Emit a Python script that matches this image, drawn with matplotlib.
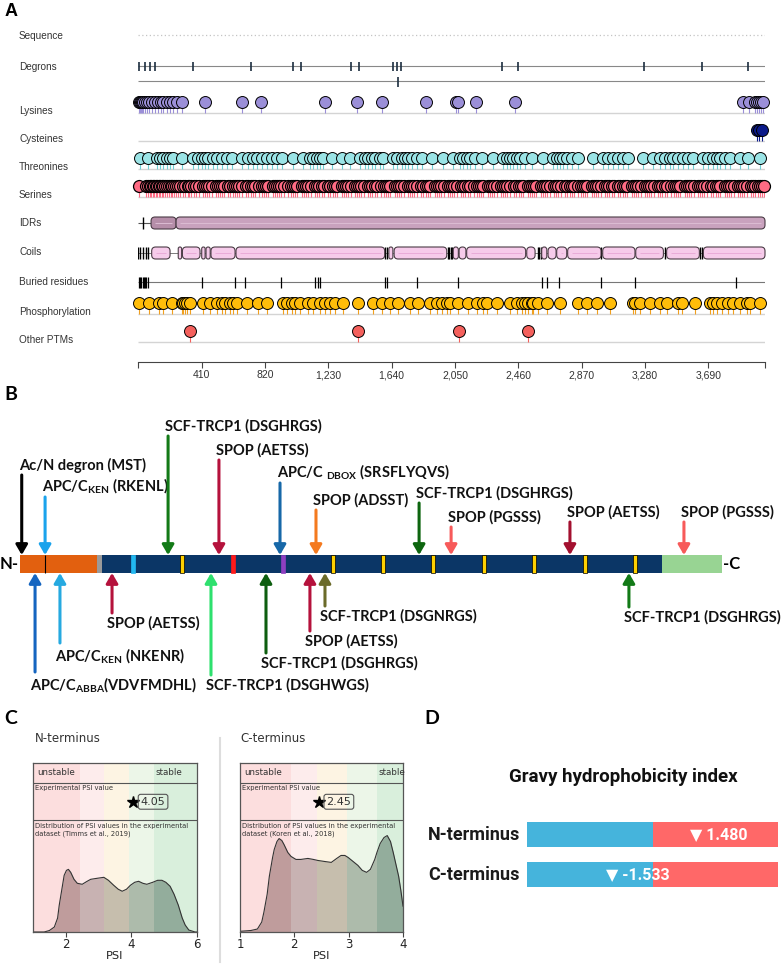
import matplotlib
matplotlib.use('Agg')
import matplotlib.pyplot as plt
from matplotlib.patches import Rectangle, FancyBboxPatch
from matplotlib.lines import Line2D
from matplotlib.transforms import offset_copy

plt.rcParams['mathtext.fontset'] = 'custom'
plt.rcParams['mathtext.rm'] = 'Lato:bold'
plt.rcParams['mathtext.bf'] = 'Lato:bold'
plt.rcParams['mathtext.it'] = 'Lato:bold'

W, H = 782, 965
PROTEIN_LEN = 4058

# ---------------- panel A data (residue positions) ----------------
degron_sites = [5, 43, 75, 108, 351, 727, 1003, 1053, 1377, 1431, 1651, 1677, 1701,
                2353, 2461, 3275, 3650, 3948]
degron_sites_2 = [1681]
lysines = [3, 8, 14, 22, 30, 42, 55, 70, 88, 108, 127, 145, 160, 185, 205, 224, 250, 283,
           432, 671, 794, 1209, 1416, 1578, 1863, 2055, 2070, 2187, 2440,
           3915, 3954, 3993, 4006, 4019, 4032, 4045]
cysteines = [4006, 4020, 4040]
threonines = [10, 64, 118, 140, 161, 183, 205, 226, 280, 356, 388, 410, 431, 453, 485, 507,
              539, 572, 604, 669, 712, 744, 766, 798, 831, 863, 896, 928, 1003, 1068, 1111,
              1133, 1155, 1176, 1198, 1252, 1317, 1371, 1435, 1468, 1489, 1511, 1532, 1565,
              1586, 1651, 1673, 1705, 1727, 1748, 1770, 1802, 1835, 1900, 1975, 2040, 2083,
              2104, 2126, 2148, 2180, 2224, 2299, 2364, 2385, 2407, 2428, 2450, 2472, 2504,
              2547, 2623, 2687, 2709, 2731, 2752, 2774, 2806, 2849, 2946, 3011, 3043, 3076,
              3108, 3141, 3173, 3270, 3335, 3378, 3411, 3443, 3465, 3497, 3530, 3562, 3594,
              3659, 3691, 3724, 3746, 3767, 3799, 3832, 3896, 3950, 4026]
serines = [5, 52, 62, 72, 82, 92, 102, 112, 122, 132, 142, 152, 162, 172, 184, 196, 208, 220,
           232, 245, 258, 272, 290,
           305, 318, 330, 342, 360, 376, 390, 418, 432, 446, 460, 475, 500, 514, 528, 542,
           556, 582, 596, 610,
           624, 638, 652, 670, 698, 712, 726, 740, 756, 784, 798, 812, 826, 840, 870, 884, 898,
           912, 926, 944, 972, 986, 1000, 1014, 1030, 1058, 1072, 1086, 1100, 1116, 1144,
           1158, 1172, 1186,
           1200, 1230, 1244, 1258, 1272, 1288, 1316, 1330, 1344, 1358, 1374, 1402, 1416, 1430,
           1444, 1460, 1488,
           1502, 1516, 1530, 1546, 1574, 1588, 1602, 1616, 1632, 1660, 1674, 1688, 1702, 1718,
           1746, 1760, 1774, 1788,
           1804, 1832, 1846, 1860, 1874, 1890, 1918, 1932, 1946, 1960, 1976, 2004, 2018, 2032,
           2046, 2062, 2090,
           2104, 2118, 2132, 2148, 2176, 2190, 2204, 2218, 2234, 2262, 2276, 2290, 2304, 2320,
           2348, 2362, 2376, 2390,
           2406, 2434, 2448, 2462, 2476, 2492, 2520, 2534, 2548, 2562, 2578, 2606, 2620, 2634,
           2648, 2664, 2692,
           2706, 2720, 2736, 2764, 2778, 2792, 2806, 2822, 2850, 2864, 2878, 2892, 2908, 2936,
           2950, 2964, 2978, 2994,
           3022, 3036, 3050, 3064, 3080, 3108, 3122, 3136, 3150, 3166, 3194, 3208, 3222, 3236,
           3252, 3280, 3294,
           3308, 3322, 3338, 3366, 3380, 3394, 3408, 3424, 3452, 3466, 3480, 3494, 3510, 3538,
           3552, 3566, 3580, 3596,
           3624, 3638, 3652, 3666, 3682, 3710, 3724, 3738, 3752, 3768, 3796, 3810, 3824, 3838,
           3854, 3882, 3896, 3910, 3924, 3940, 3968, 3982, 3996, 4010, 4024, 4038, 4050]
idr_ticks = [30]
idr_starts = [82, 244]
idr_ends = [244, 4058]
coil_ticks = [0, 10, 32, 47, 60, 1600, 1612, 2003, 2012, 2022, 2030, 2585, 2595, 2605,
              2999, 3412, 3640, 3650]
coil_starts = [86, 258, 285, 410, 438, 470, 632, 1622, 1656, 2039, 2077, 2126, 2515, 2612,
               2653, 2709, 2780, 3007, 3221, 3421, 3659]
coil_ends = [205, 280, 399, 432, 465, 626, 1595, 1648, 1997, 2072, 2121, 2508, 2569, 2645,
             2705, 2774, 2996, 3216, 3400, 3633, 4058]
buried_sites = [4, 12, 20, 28, 36, 44, 52, 60, 410, 626, 690, 921, 1144, 1160,
                1176, 1595, 1608, 1806, 2072, 2612, 2645, 2726, 2996, 3216, 3870]
phospho_sites = [6, 71, 135, 161, 216, 280, 291, 302, 313, 334, 421, 464, 507, 539, 561, 593,
                 615, 637, 701, 777, 831, 934, 960, 993, 1014, 1047, 1101, 1133, 1176, 1209,
                 1241, 1273, 1327, 1425, 1521, 1576, 1630, 1683, 1759, 1813, 1889, 1932, 1965,
                 1997, 2018, 2072, 2137, 2191, 2234, 2256, 2321, 2407, 2450, 2483, 2504, 2525,
                 2547, 2558, 2590, 2645, 2731, 2849, 2904, 2968, 3055, 3206, 3216, 3249, 3314,
                 3378, 3422, 3497, 3519, 3605, 3702, 3724, 3746, 3778, 3821, 3853, 3896, 3940,
                 3961, 4026]
other_ptms = [334, 1425, 2079, 2521]
axis_ticks = [410, 820, 1230, 1640, 2050, 2460, 2870, 3280, 3690]

# ---------------- panel B data ----------------
domain_starts = [0, 445, 474, 3711]
domain_ends = [445, 474, 3711, 4058]
domain_colors = ['#e2600f', '#9a9a9a', '#0b3666', '#98d493']
stripe_pos = [653, 936, 1231, 1520, 1809, 2098, 2387, 2682, 2971, 3266, 3555]
stripe_colors = ['#22b8f0', '#ffd000', '#ff1a1a', '#8e3fc0', '#ffd000', '#ffd000', '#ffd000',
                 '#ffd000', '#ffd000', '#ffd000', '#ffd000']

top_labels = ['Ac/N degron (MST)', r'APC/C$_{\mathrm{KEN}}$ (RKENL)', 'SCF-TRCP1 (DSGHRGS)',
              'SPOP (AETSS)', r'APC/C ${}_{\mathrm{DBOX}}$ (SRSFLYQVS)', 'SPOP (ADSST)',
              'SCF-TRCP1 (DSGHRGS)', 'SPOP (PGSSS)', 'SPOP (AETSS)', 'SPOP (PGSSS)']
top_pos = [10, 145, 856, 1150, 1503, 1711, 2307, 2492, 3179, 3838]
top_colors = ['#000000', '#1aa3ec', '#137a17', '#b5123c', '#1768a8', '#f47a1f',
              '#0d650f', '#f75a5a', '#a3102f', '#f75a5a']
top_start = [475, 497, 436, 460, 483, 510, 503, 527, 522, 522]

bot_labels = [r'APC/C$_{\mathrm{ABBA}}$(VDVFMDHL)', r'APC/C$_{\mathrm{KEN}}$ (NKENR)',
              'SPOP (AETSS)', 'SCF-TRCP1 (DSGHWGS)', 'SCF-TRCP1 (DSGHRGS)', 'SPOP (AETSS)',
              'SCF-TRCP1 (DSGNRGS)', 'SCF-TRCP1 (DSGHRGS)']
bot_pos = [87, 231, 532, 1104, 1422, 1676, 1763, 3520]
bot_colors = ['#1565c0', '#26a9e0', '#b5123c', '#2ee06e', '#0d5e0f', '#b5123c',
              '#6b6b2a', '#137a17']
bot_end = [672, 643, 613, 675, 653, 631, 606, 607]

# ---------------- panel C data ----------------
psi_n = [1.0, 1.34, 1.5, 1.65, 1.75, 1.8, 1.88, 1.95, 2.02, 2.08, 2.15, 2.25, 2.35, 2.5,
         2.65, 2.76, 2.95, 3.16, 3.3, 3.46, 3.6, 3.72, 3.85, 3.97, 4.1, 4.22, 4.35, 4.47,
         4.65, 4.8, 4.93, 5.05, 5.18, 5.3, 5.43, 5.55, 5.64, 5.75, 5.94, 6.0]
dens_n = [0, 0, 1.5, 5, 14, 27, 43, 57, 62, 63, 60, 53, 49, 48, 51, 53, 54, 55, 52, 47, 43,
          41, 43, 47, 50, 51, 49, 48, 50, 52, 52, 50, 46, 38, 27, 14, 7, 2, 0, 0]
psi_c = [1.0, 1.2, 1.32, 1.4, 1.44, 1.5, 1.54, 1.6, 1.63, 1.68, 1.72, 1.77, 1.81, 1.88,
         1.94, 2.03, 2.12, 2.25, 2.35, 2.43, 2.55, 2.68, 2.78, 2.86, 2.93, 2.99, 3.08, 3.17,
         3.25, 3.33, 3.4, 3.48, 3.52, 3.58, 3.65, 3.71, 3.77, 3.82, 3.87, 3.92, 3.96, 4.0]
dens_c = [0.7, 1.5, 3, 10, 20, 38, 56, 75, 83, 91, 94, 92, 88, 80, 76, 73, 73, 74, 73, 72,
          71, 70, 74, 77, 77, 75, 71, 67, 62, 60, 63, 73, 80, 89, 95, 97, 91, 80, 68, 56,
          42, 26]
bins_n = [1.0, 2.42, 3.15, 3.94, 4.70, 6.0]
bins_c = [1.0, 1.93, 2.42, 2.97, 3.53, 4.0]
psi_value_n = 4.05
psi_value_c = 2.45

# ---------------- panel D data ----------------
gravy_labels = ['N-terminus', 'C-terminus']
gravy_values = [1.480, -1.533]
gauge_min, gauge_max = -4.5, 4.5


def fbox(x0, y0, x1, y1):
    return [x0 / W, 1 - y1 / H, (x1 - x0) / W, (y1 - y0) / H]


fig = plt.figure(figsize=(W / 100, H / 100), dpi=100)
fig.patch.set_facecolor('white')

letter_font = dict(fontsize=14, fontweight='bold', family='Lato', va='center', ha='left')
fig.text(5 / W, 1 - 12 / H, 'A', fontsize=13, fontweight='bold', family='Liberation Sans',
         va='center', ha='left')
fig.text(4 / W, 1 - 394 / H, 'B', **letter_font)
fig.text(4 / W, 1 - 718 / H, 'C', **letter_font)
fig.text(424 / W, 1 - 718 / H, 'D', **letter_font)

# =============== Panel A ===============
ax = fig.add_axes(fbox(138.4, 0, 765, 362))
ax.set_xlim(0, PROTEIN_LEN)
ax.set_ylim(362, 0)
for s in ['top', 'left', 'right']:
    ax.spines[s].set_visible(False)
ax.spines['bottom'].set_color('#444444')
ax.spines['bottom'].set_linewidth(0.8)
ax.set_yticks([])
ax.set_xticks([0] + axis_ticks + [PROTEIN_LEN])
ax.set_xticklabels([''] + [f'{v:,}' for v in axis_ticks] + [''])
ax.tick_params(axis='x', length=4, width=0.8, color='#444444', labelsize=7.5,
               labelcolor='#333333', pad=2)
for lab in ax.get_xticklabels():
    lab.set_family('Liberation Sans')

row_labels = ['Sequence', 'Degrons', 'Lysines', 'Cysteines', 'Threonines', 'Serines', 'IDRs',
              'Coils', 'Buried residues', 'Phosphorylation', 'Other PTMs']
row_label_y = [36, 67, 111, 139, 167, 195, 223, 252, 282, 312, 340]
lab_x = (19 - 138.4) / (765 - 138.4)
for name, y in zip(row_labels, row_label_y):
    ax.text(lab_x, y, name, transform=ax.get_yaxis_transform(), fontsize=7.2,
            family='Liberation Sans', color='#333333', va='center', ha='left')

# sequence
ax.hlines(35, 0, PROTEIN_LEN, colors='#c4c4c4', linestyles=(0, (1, 2)), lw=0.9)

# degrons
ax.hlines(66, 0, PROTEIN_LEN, colors='#888888', lw=0.8)
ax.vlines(degron_sites, 62, 71, colors='#1c2e40', lw=1.2)
ax.hlines(81, 0, PROTEIN_LEN, colors='#888888', lw=0.8)
ax.vlines(degron_sites_2, 77, 87, colors='#1c2e40', lw=1.2)


def lollipop(pos, yc, ybase, color, stem, mew=0.7):
    ax.hlines(ybase, 0, PROTEIN_LEN, colors='#d4d4d4', lw=1.0, zorder=1)
    ax.vlines(pos, yc, ybase - 0.5, colors=stem, lw=0.8, zorder=2)
    ax.plot(pos, [yc] * len(pos), 'o', ms=8.6, mfc=color, mec='black', mew=mew,
            clip_on=False, zorder=3)


lollipop(lysines, 102, 113, '#9b8fd8', '#9b8fd8')
lollipop(cysteines, 130, 141, '#0b1a8a', '#0b1a8a')
lollipop(threonines, 158, 169, '#9be4e6', '#6fd0d4')
lollipop(serines, 186, 197, '#ff6b84', '#ff6b84', mew=0.9)
lollipop(phospho_sites, 303, 314, '#ffbd0a', '#f0a020')
lollipop(other_ptms, 331, 342, '#f4605c', '#f4605c')

ASPECT = 4 / 26.0


def rbox(x0, x1, yc, h, fc, mid):
    r = min(26, (x1 - x0) / 2.0)
    p = FancyBboxPatch((x0, yc - h / 2), x1 - x0, h,
                       boxstyle=f'round,pad=0,rounding_size={r}', mutation_aspect=ASPECT,
                       fc=fc, ec='#4a3b45', lw=0.8, clip_on=False, zorder=3)
    ax.add_patch(p)
    ax.hlines(yc, x0 + r, x1 - r, colors=mid, lw=0.7, zorder=4)


# IDRs
ax.hlines(223, 0, idr_starts[0], colors='#555555', lw=0.8)
ax.vlines(idr_ticks, 217, 229, colors='black', lw=1.0)
idr_fc = ['#b68ea9', '#c9a2be']
for x0, x1, c in zip(idr_starts, idr_ends, idr_fc):
    rbox(x0, x1, 223, 12, c, '#dcbcd3')

# coils
ax.hlines(253, 0, PROTEIN_LEN, colors='#666666', lw=0.6)
ax.vlines(coil_ticks, 247, 259, colors='black', lw=1.0)
for x0, x1 in zip(coil_starts, coil_ends):
    rbox(x0, x1, 253, 12, '#f6cbea', '#e9acd8')

# buried residues
ax.hlines(282, 0, PROTEIN_LEN, colors='#777777', lw=0.8)
ax.vlines(buried_sites, 277, 288, colors='black', lw=0.9)

# =============== Panel B ===============
k = 702.0 / PROTEIN_LEN
axb = fig.add_axes(fbox(0, 380, 782, 712))
axb.set_xlim(-20 / k, 762 / k)
axb.set_ylim(712, 380)
axb.axis('off')
for x0, x1, c in zip(domain_starts, domain_ends, domain_colors):
    axb.barh(564, x1 - x0, left=x0, height=18, color=c, lw=0)
for xp, c in zip(stripe_pos, stripe_colors):
    ec = 'black' if c == '#ffd000' else c
    axb.barh(564, 3.5 / k, left=xp - 1.75 / k, height=18, color=c, ec=ec, lw=0.5)
axb.vlines([145], 555, 573, colors='black', lw=0.8)
fig.text(0 / W, 1 - 564 / H, 'N-', fontsize=12, fontweight='bold', family='Lato',
         ha='left', va='center')
fig.text(723 / W, 1 - 564 / H, '-C', fontsize=12, fontweight='bold', family='Lato',
         ha='left', va='center')

arrow_style = dict(arrowstyle='-|>,head_length=0.6,head_width=0.35', mutation_scale=10,
                   lw=2.2, shrinkA=0, shrinkB=0)
tr_top = offset_copy(axb.transData, fig=fig, x=-3, y=0, units='dots')
tr_bot = offset_copy(axb.transData, fig=fig, x=-5, y=0, units='dots')
lab_font = dict(fontsize=10.5, fontweight='bold', family='Lato', color='#111111')
for lab, xp, c, y0 in zip(top_labels, top_pos, top_colors, top_start):
    axb.annotate('', xy=(xp, 555), xytext=(xp, y0),
                 arrowprops=dict(color=c, **arrow_style))
    axb.text(xp, y0 - 2, lab, transform=tr_top, ha='left', va='bottom', **lab_font)
for lab, xp, c, y1 in zip(bot_labels, bot_pos, bot_colors, bot_end):
    axb.annotate('', xy=(xp, 573), xytext=(xp, y1),
                 arrowprops=dict(color=c, **arrow_style))
    axb.text(xp, y1 + 3, lab, transform=tr_bot, ha='left', va='top', **lab_font)

# =============== Panel C ===============
band_colors = ['#fcdede', '#fdecec', '#fdf4e3', '#ecf6e8', '#d9efdc']
fill_colors = ['#bf9c9c', '#c8b2b2', '#c6bead', '#adbbab', '#93ad9c']


def psi_panel(axp, psi, dens, bins, value, ticks, source):
    for i in range(5):
        axp.axvspan(bins[i], bins[i + 1], color=band_colors[i], lw=0, zorder=0)
    for i in range(5):
        poly = axp.fill_between(psi, dens, 0, color=fill_colors[i], lw=0, zorder=1)
        clip = Rectangle((bins[i], 0), bins[i + 1] - bins[i], 170, transform=axp.transData)
        poly.set_clip_path(clip)
    axp.plot(psi, dens, color='#333333', lw=0.8, zorder=2)
    axp.axhline(150, color='#555555', lw=0.8, zorder=3)
    axp.axhline(113, color='#555555', lw=0.8, zorder=3)
    axp.set_xlim(bins[0], bins[-1])
    axp.set_ylim(0, 170)
    axp.set_yticks([])
    axp.set_xticks(ticks)
    axp.tick_params(axis='x', length=3.5, width=0.8, color='#444444', labelsize=8.5,
                    labelcolor='#222222', pad=1)
    for s in axp.spines.values():
        s.set_color('#555555')
        s.set_linewidth(0.9)
    axp.set_xlabel('PSI', fontsize=8.2, color='#222222', labelpad=0)
    xt = axp.get_yaxis_transform()
    axp.text(0.025, 160, 'unstable', transform=xt, fontsize=6.3, color='#333333',
             va='center', ha='left')
    axp.text(bins[4] + 0.02, 160, 'stable', fontsize=6.3, color='#333333',
             va='center', ha='left')
    axp.text(0.015, 148, 'Experimental PSI value', transform=xt, fontsize=4.9,
             color='#333333', va='top', ha='left')
    axp.text(0.015, 110, 'Distribution of PSI values in the experimental\n' + source,
             transform=xt, fontsize=4.9, color='#333333', va='top', ha='left',
             linespacing=1.3)
    axp.plot(value, 131, marker='*', ms=9, color='black', zorder=4)
    axp.annotate(f'{value:.2f}', xy=(value, 131), xytext=(5.5, 0), textcoords='offset points',
                 ha='left', va='center', fontsize=8, color='#333333', zorder=4,
                 bbox=dict(boxstyle='round,pad=0.22', fc='none', ec='#555555', lw=0.8))


axn = fig.add_axes(fbox(33, 763, 197, 932))
psi_panel(axn, psi_n, dens_n, bins_n, psi_value_n, [2, 4, 6], 'dataset (Timms et al., 2019)')
axc = fig.add_axes(fbox(240, 763, 403, 932))
psi_panel(axc, psi_c, dens_c, bins_c, psi_value_c, [1, 2, 3, 4], 'dataset (Koren et al., 2018)')
fig.text(35 / W, 1 - 738 / H, 'N-terminus', fontsize=8.5, color='#333333', va='center')
fig.text(240 / W, 1 - 738 / H, 'C-terminus', fontsize=8.5, color='#333333', va='center')
fig.add_artist(Line2D([220 / W, 220 / W], [1 - 738 / H, 1 - 962 / H], color='#dddddd', lw=1.5))

# =============== Panel D ===============
fig.text(623 / W, 1 - 777 / H, 'Gravy hydrophobicity index', fontsize=13.5,
         fontweight='bold', family='Roboto', color='#111111', ha='center', va='center')
axd = fig.add_axes(fbox(527, 814.5, 778, 894.5))
axd.set_xlim(gauge_min, gauge_max)
axd.set_ylim(1.5, -0.5)
axd.axis('off')
for i, (lab, v) in enumerate(zip(gravy_labels, gravy_values)):
    axd.barh(i, 0 - gauge_min, left=gauge_min, height=0.625, color='#45b4dc', lw=0)
    axd.barh(i, gauge_max, left=0, height=0.625, color='#ff6868', lw=0)
    axd.text(v - 0.15, i, f'\u25bc {v:.3f}', fontsize=11.5, fontweight='bold',
             family=['Roboto', 'DejaVu Sans'], color='white', ha='left', va='center')
    axd.text(-0.028, i, lab, transform=axd.get_yaxis_transform(), fontsize=13,
             fontweight='bold', family='Roboto', color='#1a1a1a', ha='right', va='center')

fig.savefig('out.png', dpi=100)
